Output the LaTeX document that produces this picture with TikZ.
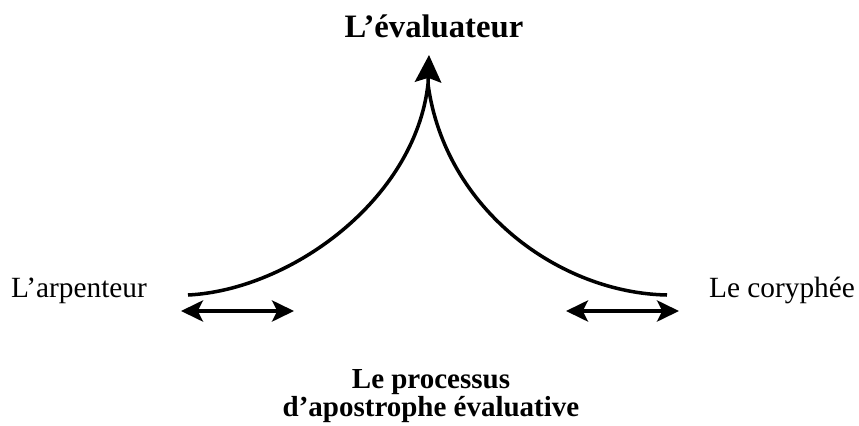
\documentclass[tikz,border=0pt]{standalone}
\usepackage{fontspec}
\setmainfont{Liberation Serif}
\usetikzlibrary{arrows.meta,positioning}
\newcommand\tightlines{\lineskiplimit=-20pt\relax}

\begin{document}
\begin{tikzpicture}[
    x=0.02cm, y=-0.02cm,
    role/.style={inner sep=0pt, anchor=base, font=\fontsize{16.7}{18}\selectfont},
    title/.style={inner sep=0pt, anchor=base, font=\fontsize{18.6}{20}\bfseries},
    curve/.style={line width=2pt},
    tip/.style={-{Stealth[length=15.5pt, width=15pt, inset=2.5pt]}, line width=2pt},
    dblarrow/.style={{Stealth[length=12.5pt, width=12pt, inset=3pt]}-{Stealth[length=12.5pt, width=12pt, inset=3pt]}, line width=2.2pt}
]
\useasboundingbox (0,0) rectangle (859,426);

% ===================== LABELS =====================
\node[title] (evaluateur) at (434,37) {L’évaluateur};
\node[role] (arpenteur) at (79,297) {L’arpenteur};
\node[role] (coryphee) at (782,297) {Le coryphée};
\node[title, align=center, anchor=center,
      font=\fontsize{16.5}{15.9}\bfseries\tightlines] (processus) at (431,396.5)
{Le processus\\d’apostrophe évaluative};

% ===================== POINTS =====================
\coordinate (lend) at (188,295);
\coordinate (rend) at (667,295);
\coordinate (apex) at (428,84);
\coordinate (apextip) at (429,55);

\coordinate (la) at (181,311);
\coordinate (lb) at (294,311);
\coordinate (ra) at (566,311);
\coordinate (rb) at (679,311);

% ===================== CURVES =====================
\draw[curve] (lend) .. controls (290,290) and (415,200) .. (apex);
\draw[curve] (apex) .. controls (445,210) and (560,293) .. (rend);
\draw[tip] (apex) -- (apextip);

% ===================== ARROWS =====================
\draw[dblarrow] (la) -- (lb);
\draw[dblarrow] (ra) -- (rb);

\end{tikzpicture}
\end{document}
